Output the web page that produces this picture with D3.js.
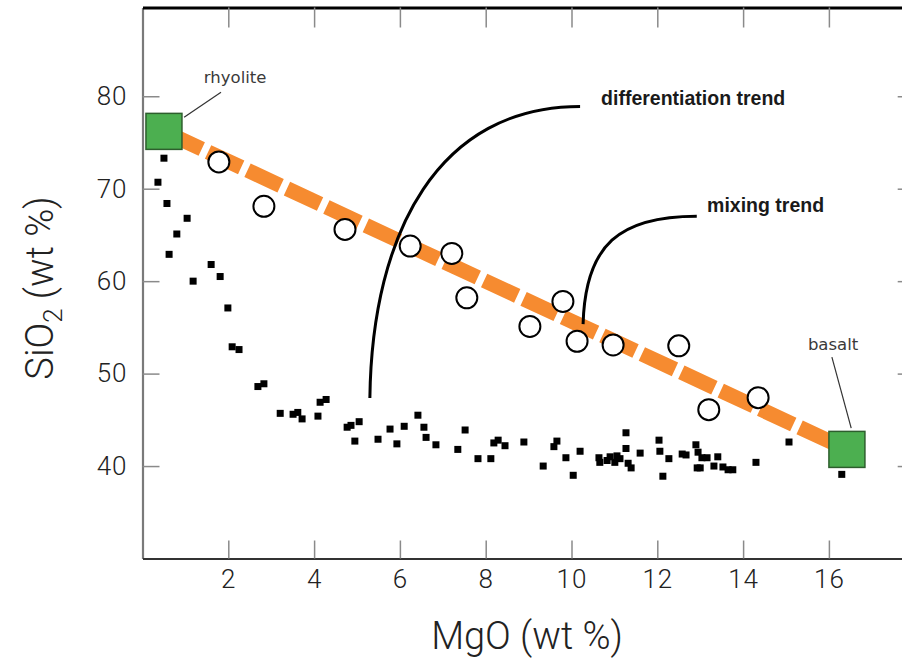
<!DOCTYPE html>
<html>
<head>
<meta charset="utf-8">
<script src="https://cdn.jsdelivr.net/npm/d3@7"></script>
<style>
  html, body { margin: 0; padding: 0; background: #fff; }
  svg { display: block; }
</style>
</head>
<body>
<svg id="chart" width="902" height="660"></svg>
<script>
// ---------- data ----------
const xTicks = [2, 4, 6, 8, 10, 12, 14, 16];
const yTicks = [40, 50, 60, 70, 80];

// differentiation series (black squares): [MgO, SiO2]
const diffMgO = [0.50,0.36,0.57,1.04,0.80,0.62,1.60,1.81,1.18,1.99,2.09,2.25,2.69,2.83,3.21,3.51,3.62,3.72,4.09,4.14,4.28,4.77,4.86,5.05,4.95,5.49,5.77,5.93,6.10,6.42,6.56,6.61,6.84,7.35,7.52,7.82,8.12,8.19,8.29,8.45,8.89,9.34,9.66,9.59,9.87,10.04,10.20,10.64,10.66,10.83,10.90,11.01,11.06,11.13,11.27,11.27,11.32,11.39,11.60,12.04,12.06,12.13,12.27,12.58,12.67,12.90,12.95,13.04,12.93,13.00,13.16,13.32,13.41,13.53,13.65,13.76,14.30,15.07,16.30];
const diffSiO2 = [73.3,70.7,68.4,66.8,65.1,62.9,61.8,60.5,60.0,57.1,52.9,52.6,48.6,48.9,45.7,45.6,45.8,45.1,45.4,46.9,47.2,44.2,44.4,44.8,42.7,42.9,44.0,42.4,44.3,45.5,44.2,43.1,42.3,41.8,43.9,40.8,40.8,42.5,42.8,42.2,42.6,40.0,42.7,42.1,40.9,39.0,41.6,40.9,40.4,40.6,41.0,40.4,41.1,40.8,43.6,41.9,40.3,39.8,41.4,42.8,41.6,38.9,40.8,41.3,41.2,42.3,41.5,40.9,39.8,39.8,40.9,40.0,41.0,39.9,39.6,39.6,40.4,42.6,39.1];

// mixing series (open circles)
const mixMgO  = [1.78, 2.83, 4.72, 6.24, 7.21, 7.56, 9.03, 9.80, 10.13, 10.97, 12.50, 13.20, 14.35];
const mixSiO2 = [72.9, 68.1, 65.6, 63.8, 63.0, 58.2, 55.1, 57.8, 53.5, 53.1, 53.0, 46.1, 47.4];

// end members (green squares)
const endNames = ["rhyolite", "basalt"];
const endMgO   = [0.50, 16.42];
const endSiO2  = [76.2, 41.8];

// annotation texts
const noteTexts = ["rhyolite", "differentiation trend", "mixing trend", "basalt"];
const noteMgO   = [1.43, 10.69, 13.16, 15.51];
const noteSiO2  = [81.4, 79.03, 67.46, 52.54];

// leader lines (data units)
const leaders = [
  [[0.97, 77.73], [1.83, 80.43]],
  [[16.07, 51.78], [16.52, 44.11]]
];
// curved arrows as cubic bezier control points (data units)
const curves = [
  [[5.30, 47.35], [5.35, 65.5], [6.93, 78.9], [10.20, 78.9]],
  [[10.27, 55.35], [10.32, 64.0], [11.13, 67.03], [12.92, 67.03]]
];

// ---------- layout ----------
const svg = d3.select("#chart");
const x = d3.scaleLinear().domain([0, 18]).range([142.5, 914.7]);
const y = d3.scaleLinear().domain([30, 89.6]).range([558.5, 7.5]);

const tickFont = "Roboto, 'Liberation Sans', sans-serif";

// axes with inward ticks
const gLeft = svg.append("g").attr("transform", `translate(${x(0)},0)`)
  .call(d3.axisLeft(y).tickValues(yTicks).tickSize(-17).tickSizeOuter(0).tickPadding(15));
const gBottom = svg.append("g").attr("transform", `translate(0,${y(30)})`)
  .call(d3.axisBottom(x).tickValues(xTicks).tickSize(-18).tickSizeOuter(0).tickPadding(11));
const gTop = svg.append("g").attr("transform", `translate(0,${y(89.6)})`)
  .call(d3.axisTop(x).tickValues(xTicks).tickSize(-20).tickSizeOuter(0).tickFormat(""));
const gRight = svg.append("g").attr("transform", `translate(${x(18)},0)`)
  .call(d3.axisRight(y).tickValues(yTicks).tickSize(-17).tickSizeOuter(0).tickFormat(""));

[gLeft, gBottom, gTop, gRight].forEach(g => {
  g.selectAll(".tick line").attr("stroke", "#8a8a8a").attr("stroke-width", 1.5);
  g.selectAll(".tick text")
    .attr("fill", "#222")
    .style("font-family", tickFont)
    .style("font-weight", 300)
    .style("font-size", "26px")
    .style("letter-spacing", "1px");
});
gLeft.select(".domain").attr("stroke", "#7a7a7a").attr("stroke-width", 2.2);
gBottom.select(".domain").attr("stroke", "#333").attr("stroke-width", 2.2);
gTop.select(".domain").attr("stroke", "#000").attr("stroke-width", 3);
gRight.select(".domain").attr("stroke", "#333").attr("stroke-width", 2);

// axis titles
svg.append("text")
  .attr("x", 527).attr("y", 649)
  .attr("text-anchor", "middle")
  .style("font-family", tickFont).style("font-weight", 300).style("font-size", "38px")
  .attr("fill", "#222")
  .text("MgO (wt %)");

const yt = svg.append("text")
  .attr("transform", "translate(53,288) rotate(-90)")
  .attr("text-anchor", "middle")
  .style("font-family", tickFont).style("font-weight", 300).style("font-size", "38px")
  .attr("fill", "#222");
yt.append("tspan").text("SiO");
yt.append("tspan").attr("dy", 9).style("font-size", "26px").text("2");
yt.append("tspan").attr("dy", -9).text(" (wt %)");

// differentiation squares
const diffData = diffMgO.map((m, i) => ({ m, s: diffSiO2[i] }));
svg.append("g").selectAll("rect").data(diffData).join("rect")
  .attr("x", d => x(d.m) - 3.5).attr("y", d => y(d.s) - 3.5)
  .attr("width", 7).attr("height", 7).attr("fill", "#000");

// orange mixing line
const x0 = x(endMgO[0]), y0 = y(endSiO2[0]), x1 = x(endMgO[1]), y1 = y(endSiO2[1]);
svg.append("line")
  .attr("x1", x0).attr("y1", y0).attr("x2", x1).attr("y2", y1)
  .attr("stroke", "#f68b30").attr("stroke-width", 15)
  .attr("stroke-dasharray", "36.5,7").attr("stroke-dashoffset", -5.2);

// mixing circles
const mixData = mixMgO.map((m, i) => ({ m, s: mixSiO2[i] }));
svg.append("g").selectAll("circle").data(mixData).join("circle")
  .attr("cx", d => x(d.m)).attr("cy", d => y(d.s)).attr("r", 10.5)
  .attr("fill", "#fff").attr("stroke", "#000").attr("stroke-width", 2);

// end member squares
const endData = endNames.map((n, i) => ({ n, m: endMgO[i], s: endSiO2[i] }));
svg.append("g").selectAll("rect").data(endData).join("rect")
  .attr("x", d => x(d.m) - 18).attr("y", d => y(d.s) - 18)
  .attr("width", 36).attr("height", 36)
  .attr("fill", "#4caf50").attr("stroke", "#2d5e2d").attr("stroke-width", 1.5);

// leader lines
svg.append("g").selectAll("line").data(leaders).join("line")
  .attr("x1", d => x(d[0][0])).attr("y1", d => y(d[0][1]))
  .attr("x2", d => x(d[1][0])).attr("y2", d => y(d[1][1]))
  .attr("stroke", "#333").attr("stroke-width", 1.2);

// curves
svg.append("g").selectAll("path").data(curves).join("path")
  .attr("d", d => {
    const p = d3.path();
    p.moveTo(x(d[0][0]), y(d[0][1]));
    p.bezierCurveTo(x(d[1][0]), y(d[1][1]), x(d[2][0]), y(d[2][1]), x(d[3][0]), y(d[3][1]));
    return p.toString();
  })
  .attr("fill", "none").attr("stroke", "#000").attr("stroke-width", 3);

// annotation texts
const notes = noteTexts.map((t, i) => ({ t, m: noteMgO[i], s: noteSiO2[i] }));
svg.append("g").selectAll("text").data(notes).join("text")
  .attr("x", d => x(d.m)).attr("y", d => y(d.s))
  .style("font-family", d => d.t.includes("trend") ? "'Liberation Sans', Arial, sans-serif" : "'DejaVu Sans', sans-serif")
  .style("font-weight", d => d.t.includes("trend") ? "bold" : "normal")
  .style("font-size", d => d.t.includes("trend") ? "19.5px" : "16.5px")
  .attr("fill", d => d.t.includes("trend") ? "#1a1a1a" : "#3a3a3a")
  .text(d => d.t);
</script>
</body>
</html>
